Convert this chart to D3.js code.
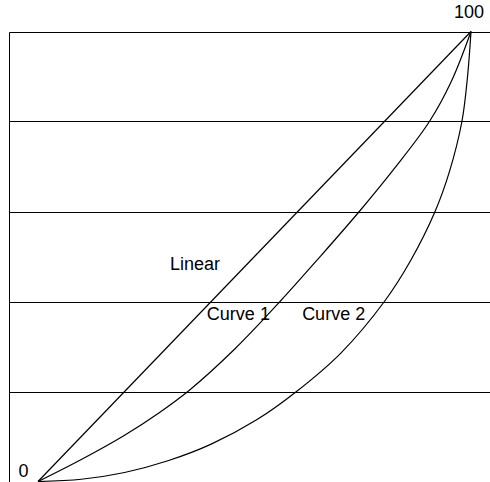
<!DOCTYPE html>
<html>
<head>
<meta charset="utf-8">
<script src="https://cdn.jsdelivr.net/npm/d3@7"></script>
<style>
  html, body { margin: 0; padding: 0; background: #fff; }
  svg { display: block; }
  text { font-family: "Liberation Sans", Arial, sans-serif; fill: #000; }
</style>
</head>
<body>
<script>
// ---- data ----
const gridValues = [0, 20, 40, 60, 80, 100];
const linearX = [0, 100];
const linearY = [0, 100];
const curve1X = [0, 10, 20, 28, 35.1, 45.5, 55.9, 65, 74.2, 82.5, 90.4, 95.5, 100];
const curve1Y = [0, 4.9, 10.3, 15.3, 20.4, 29.5, 40, 49.8, 60, 69.8, 80, 89, 100];
const curve2X = [0, 10, 20, 30, 40, 50.5, 59.7, 70, 80, 86, 91.7, 95, 97.9, 99.2, 100];
const curve2Y = [0, 0.5, 2.0, 4.6, 8.3, 13.7, 20, 28.6, 40, 49, 60, 68.8, 80, 90, 100];
const seriesLabels = ["Linear", "Curve 1", "Curve 2"];
const labelAnchors = [[30.5, 47], [39, 36], [61, 36]]; // data coords of label starts
const endLabels = ["0", "100"];

// ---- layout ----
const W = 490, H = 482;
const x = d3.scaleLinear().domain([0, 100]).range([38, 471]);
const y = d3.scaleLinear().domain([0, 100]).range([481.5, 31.5]);
const frameLeft = 9.5;

const svg = d3.select("body").append("svg").attr("width", W).attr("height", H);

// grid lines
svg.append("g").selectAll("line").data(gridValues).join("line")
  .attr("x1", frameLeft).attr("x2", W + 5)
  .attr("y1", d => Math.round(y(d)) + 0.5).attr("y2", d => Math.round(y(d)) + 0.5)
  .attr("stroke", "#000").attr("stroke-width", 1);

// left frame
svg.append("line")
  .attr("x1", frameLeft).attr("x2", frameLeft)
  .attr("y1", Math.round(y(100)) + 0.5).attr("y2", H)
  .attr("stroke", "#000").attr("stroke-width", 1);

const line = d3.line().x(d => x(d[0])).y(d => y(d[1])).curve(d3.curveCatmullRom.alpha(0.5));
const series = [
  d3.zip(linearX, linearY),
  d3.zip(curve1X, curve1Y),
  d3.zip(curve2X, curve2Y)
];
svg.append("g").selectAll("path").data(series).join("path")
  .attr("d", line)
  .attr("fill", "none").attr("stroke", "#000").attr("stroke-width", 1.2);

// labels
svg.append("g").selectAll("text").data(seriesLabels).join("text")
  .attr("x", (d, i) => x(labelAnchors[i][0]))
  .attr("y", (d, i) => y(labelAnchors[i][1]))
  .attr("font-size", 18)
  .text(d => d);

svg.append("text").attr("x", 18.5).attr("y", 476.5).attr("font-size", 18).text(endLabels[0]);
svg.append("text").attr("x", 454).attr("y", 17.5).attr("font-size", 18).text(endLabels[1]);
</script>
</body>
</html>
